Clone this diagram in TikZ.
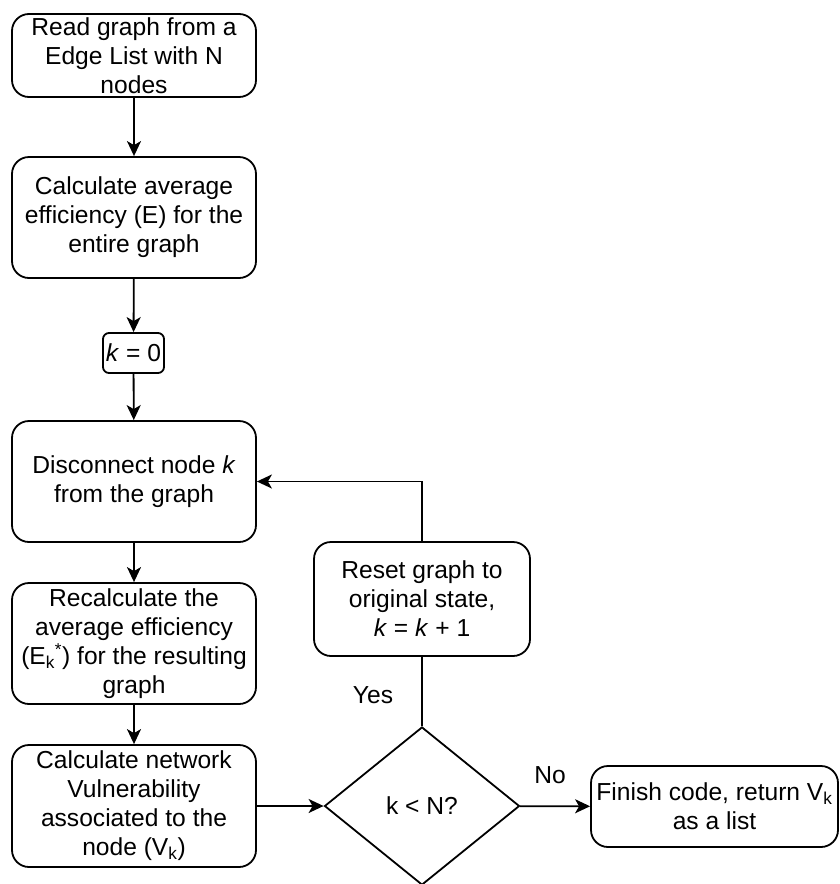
\documentclass[tikz,border=0pt]{standalone}
\usepackage{fontspec}
\setmainfont{Liberation Sans}
\usetikzlibrary{positioning,arrows.meta,shapes.geometric}

\begin{document}
\begin{tikzpicture}[
        x=1pt, y=-1pt,
        >={Stealth[length=15pt,width=14pt,inset=4pt]},
        font=\fontsize{24.6}{29}\selectfont,
        proc_box/.style={
            rectangle,
            draw=black,
            line width=1.8pt,
            rounded corners=17pt,
            minimum width=244pt,
            minimum height=121pt,
            inner sep=1pt,
            align=center
        },
        small_box/.style={
            rectangle,
            draw=black,
            line width=1.8pt,
            rounded corners=6pt,
            minimum width=61pt,
            minimum height=40pt,
            inner sep=1pt
        },
        decision/.style={
            diamond,
            draw=black,
            line width=1.8pt,
            minimum width=195pt,
            minimum height=158pt,
            inner sep=0pt
        },
        flow_arrow/.style={->, line width=1.8pt},
        flow_line/.style={line width=1.8pt},
        label_text/.style={inner sep=0pt}
    ]

    % Frame of the picture
    \clip (0,0) rectangle (840,884);

    % Main column
    \node[proc_box, minimum height=83pt] (read_graph) at (134,55.5) {Read graph from a\\Edge List with N\\nodes};
    \node[proc_box] (calc_eff) at (134,217.5) {Calculate average\\efficiency (E) for the\\entire graph};
    \node[small_box] (k_init) at (133.5,353) {\textit{k} = 0};
    \node[proc_box] (disconnect) at (134,481.5) {Disconnect node \textit{k}\\from the graph};
    \node[proc_box] (recalc) at (134,643.5) {Recalculate the\\average efficiency\\(E\textsubscript{k}\textsuperscript{*}) for the resulting\\graph};
    \node[proc_box, minimum height=122pt] (vuln) at (134,806) {Calculate network\\Vulnerability\\associated to the\\node (V\textsubscript{k})};

    % Loop and exit
    \node[decision] (check_k) at (422,806) {k < N?};
    \node[proc_box, minimum width=216pt, minimum height=114pt] (reset_graph) at (422,599) {Reset graph to\\original state,\\\textit{k} = \textit{k} + 1};
    \node[proc_box, minimum width=247pt, minimum height=81pt] (finish) at (714.5,806.5) {Finish code, return V\textsubscript{k}\\as a list};

    % Connectors
    \draw[flow_arrow] (read_graph) -- (calc_eff);
    \draw[flow_arrow] (calc_eff) -- (k_init);
    \draw[flow_arrow] (k_init) -- (disconnect);
    \draw[flow_arrow] (disconnect) -- (recalc);
    \draw[flow_arrow] (recalc) -- (vuln);
    \draw[flow_arrow] (vuln) -- (check_k);
    \draw[flow_line] (check_k) -- (reset_graph);
    \draw[flow_arrow] (reset_graph.north) |- (disconnect.east);
    \draw[flow_arrow] (check_k) -- (finish);

    % Branch labels
    \node[label_text] (yes_lbl) at (373,695) {Yes};
    \node[label_text] (no_lbl) at (550,775) {No};

\end{tikzpicture}
\end{document}
